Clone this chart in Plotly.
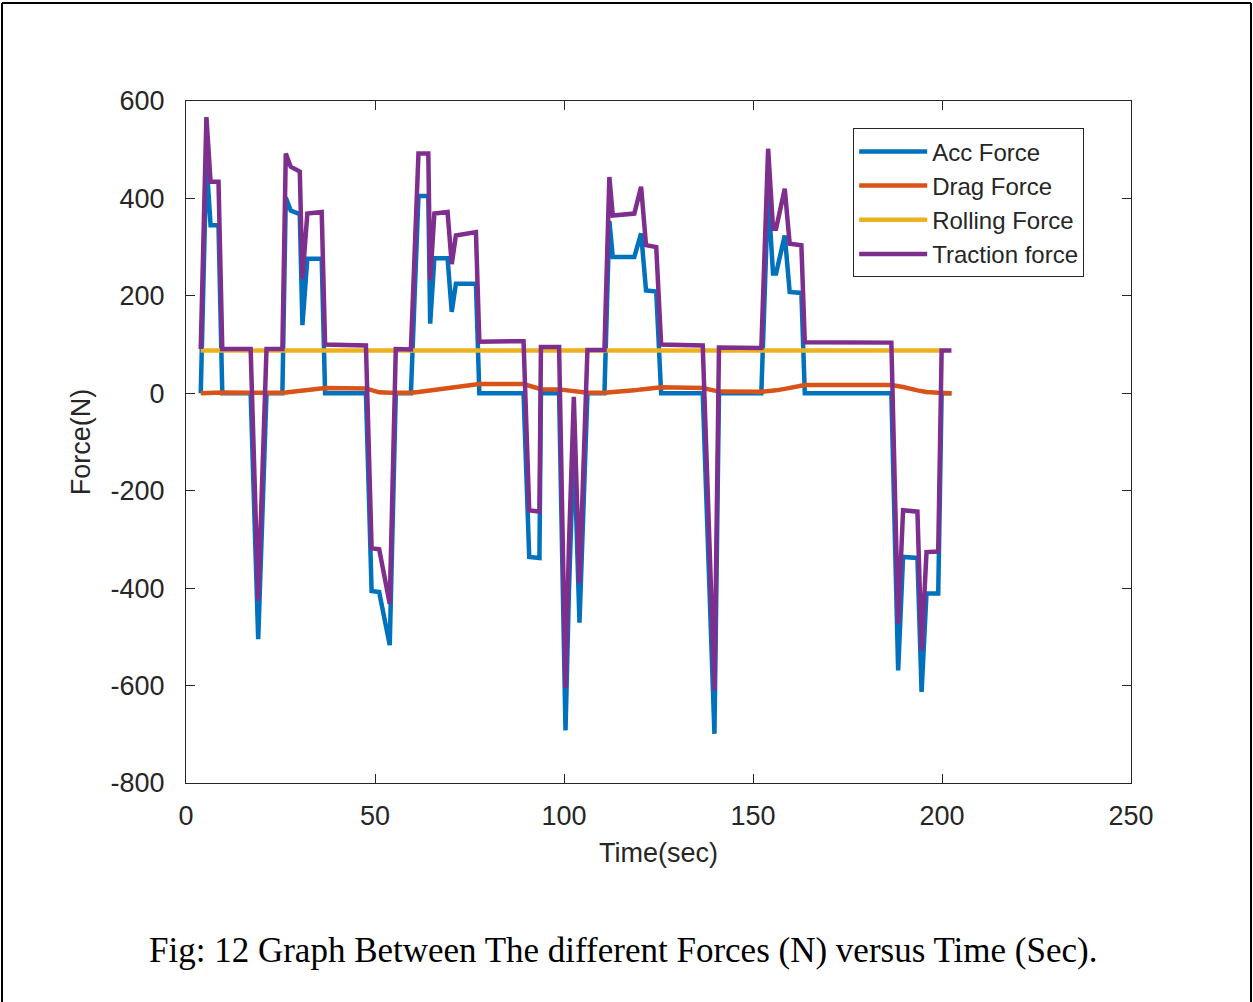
import plotly.graph_objects as go

# ---- data ----
time = [3.9, 5.4, 6.5, 8.6, 9.6, 17.1, 19.1, 21.3, 25.5,
        26.4, 27.7, 30.1, 30.8, 32.1, 35.9, 36.8, 47.6,
        49.1, 51.1, 53.9, 55.5, 59.5,
        61.5, 64.1, 64.6, 65.7, 69.2, 70.3, 71.4, 76.7, 77.6, 89.3,
        90.8, 93.5, 93.9, 98.7,
        100.4, 101.3, 102.6, 104.1, 106.2, 110.7,
        112.0, 112.9, 118.6, 120.4, 121.7, 124.4, 125.7, 136.7,
        139.8, 141.0, 152.2,
        154.0, 155.3, 156.1, 158.4, 159.7, 162.8, 163.7, 186.6,
        188.4, 189.7, 193.5, 194.6, 195.9, 199.0, 199.9, 202.5]

acc_force = [0, 478, 345, 345, 0, 0, -505, 0, 0,
             402, 375, 368, 140, 276, 276, 0, 0,
             -406, -408, -517, 0, 0,
             405, 405, 143, 277, 277, 167, 225, 225, 0, 0,
             -336, -338, 0, 0,
             -692, -409, -95, -471, 0, 0,
             354, 280, 280, 328, 211, 209, 0, 0,
             -699, 0, 0,
             411, 246, 246, 324, 208, 206, 0, 0,
             -569, -336, -338, -613, -411, -411, 0, 0]

drag_force = [0, 0.5, 1, 1.5, 1.5, 1, 0.5, 0.5, 1,
              1.5, 2.5, 4, 4.5, 6, 10, 11, 10,
              6, 2, 1, 0.5, 1,
              2.5, 5, 5.5, 7, 11, 12, 13.5, 18, 19, 19,
              15, 9, 8.5, 8,
              6, 5, 3.5, 2, 1, 1,
              1.5, 2, 6, 8, 9.5, 12, 12.5, 11,
              5, 3.5, 3,
              4, 5, 6, 9, 11, 16, 17, 17,
              15, 13, 6, 4, 2.5, 1, 0.5, 0]

traction_force = [91, 567, 434, 434, 91, 91, -425, 91, 91,
                  492, 465, 455, 235, 369, 372, 100, 98,
                  -318, -320, -432, 91, 90,
                  492, 492, 232, 369, 372, 265, 324, 331, 106, 107,
                  -240, -243, 95, 95,
                  -605, -314, -7, -390, 89, 89,
                  444, 365, 369, 424, 304, 300, 100, 98,
                  -610, 94, 93,
                  502, 338, 338, 420, 307, 304, 105, 104,
                  -473, -240, -243, -528, -326, -325, 88, 88]

time_rolling = [3.9, 199.6]
rolling_force = [88, 88]

x_ticks = [0, 50, 100, 150, 200, 250]
y_ticks = [-800, -600, -400, -200, 0, 200, 400, 600]

# ---- figure ----
LW = 4.5
fig = go.Figure()
fig.add_trace(go.Scatter(x=time, y=acc_force, mode="lines", name="Acc Force",
                         line=dict(color="#0072BD", width=LW)))
fig.add_trace(go.Scatter(x=time, y=drag_force, mode="lines", name="Drag Force",
                         line=dict(color="#D95319", width=LW)))
fig.add_trace(go.Scatter(x=time_rolling, y=rolling_force, mode="lines", name="Rolling Force",
                         line=dict(color="#EDB120", width=LW)))
fig.add_trace(go.Scatter(x=time, y=traction_force, mode="lines", name="Traction force",
                         line=dict(color="#7E2F8E", width=LW)))

axis_font = dict(family="Liberation Sans, Arial, sans-serif", size=27, color="#262626")
ax_common = dict(showgrid=False, zeroline=False, showline=True, linecolor="#262626",
                 linewidth=1, mirror="ticks", ticks="inside", ticklen=9,
                 tickcolor="#262626", tickwidth=1, tickfont=axis_font)

fig.update_xaxes(range=[0, 250], tickvals=x_ticks, ticktext=[str(v) for v in x_ticks],
                 title=dict(text="Time(sec)", font=axis_font, standoff=12),
                 ticklabelstandoff=9, **ax_common)
fig.update_yaxes(range=[-800, 600], tickvals=y_ticks, ticktext=[str(v) for v in y_ticks],
                 title=dict(text="Force(N)", font=axis_font, standoff=12),
                 ticklabelstandoff=15, **ax_common)

fig.update_layout(
    width=1253, height=1002,
    margin=dict(l=186, r=122, t=101, b=219, autoexpand=False),
    paper_bgcolor="white", plot_bgcolor="white",
    showlegend=True,
    legend=dict(x=0.706, y=0.960, xanchor="left", yanchor="top",
                bgcolor="white", bordercolor="#262626", borderwidth=1,
                font=dict(family="Liberation Sans, Arial, sans-serif", size=24, color="#262626"),
                tracegroupgap=0, itemwidth=68),
    annotations=[dict(text="Fig: 12 Graph Between The different Forces (N) versus Time (Sec).",
                      xref="paper", yref="paper", x=(623 - 186) / 945, y=(783 - 950) / 682,
                      xanchor="center", yanchor="middle", showarrow=False,
                      font=dict(family="Liberation Serif, Times New Roman, serif", size=35, color="black"))],
    shapes=[
        dict(type="line", xref="paper", yref="paper", x0=(2 - 186) / 945, x1=(2 - 186) / 945,
             y0=(783 - 3) / 682, y1=(783 - 1002) / 682, line=dict(color="black", width=2)),
        dict(type="line", xref="paper", yref="paper", x0=(2 - 186) / 945, x1=(1251 - 186) / 945,
             y0=(783 - 3) / 682, y1=(783 - 3) / 682, line=dict(color="black", width=2)),
        dict(type="line", xref="paper", yref="paper", x0=(1251 - 186) / 945, x1=(1251 - 186) / 945,
             y0=(783 - 3) / 682, y1=(783 - 1002) / 682, line=dict(color="black", width=2)),
    ],
)

fig.write_html("out.html")
